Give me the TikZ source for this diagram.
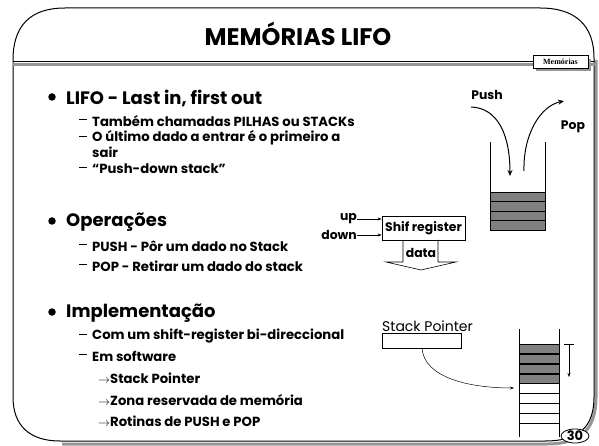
\documentclass[tikz,border=0pt]{standalone}
\usepackage{fontspec}
\setmainfont{Poppins}
\newfontfamily\timesf{Liberation Serif}
\usetikzlibrary{arrows.meta,shapes.geometric}
\definecolor{cellgray}{RGB}{128,128,128}
\definecolor{shadowgray}{RGB}{150,150,150}
\tikzset{
  lvlone/.style={anchor=west,inner sep=0pt,font=\fontsize{18}{20}\selectfont\bfseries},
  lvltwo/.style={anchor=west,inner sep=0pt,font=\fontsize{13.2}{15}\selectfont\bfseries},
  dashmark/.style={inner sep=0pt,minimum width=8pt,minimum height=0.8pt,fill=black},
  bulletmark/.style={circle,fill=black,inner sep=0pt,minimum size=7.5pt},
  cell/.style={draw=black,fill=cellgray,line width=0.8pt},
  thinarrow/.style={-{Stealth[length=4pt,width=3pt]},line width=0.5pt},
  bigarrow/.style={-{Stealth[length=6pt,width=5pt]},line width=1pt},
  lbl/.style={inner sep=0pt,font=\fontsize{12.4}{14}\selectfont\bfseries},
}
\begin{document}
\begin{tikzpicture}[x=1pt,y=-1pt]
\useasboundingbox (0,0) rectangle (599,446);
% frame shadow
\draw[shadowgray,line width=3pt] (596,60) -- (596,397) .. controls (596,428) and (582,444) .. (547,444) -- (62,444);
% frame
\draw[line width=1pt] (13,397) -- (13,60) .. controls (13,26) and (30,8) .. (65,8) -- (540,8) .. controls (575,8) and (594,25) .. (594,58) -- (594,397) .. controls (594,426) and (580,441) .. (545,441) -- (60,441) .. controls (30,441) and (13,426) .. (13,397);
% header line
\draw[shadowgray,line width=2.5pt] (13,64.5) -- (596,64.5);
\draw[line width=1pt] (13,62) -- (594,62);
% title
\node[font=\fontsize{24}{28}\selectfont\bfseries] (title) at (298,34) {MEMÓRIAS LIFO};
% Memorias tag
\fill[shadowgray] (536,59) rectangle (591,71);
\node[draw,fill=white,line width=0.6pt,minimum width=55pt,minimum height=13pt,inner sep=0pt,font=\timesf\fontsize{8}{9}\selectfont\bfseries] (tag) at (560.5,62) {Memórias};

% level one items
\node[bulletmark] (b1) at (52,97) {};
\node[lvlone] (l1) at (66,98) {LIFO - Last in, first out};
\node[dashmark] (d11) at (83,119.7) {};
\node[lvltwo] (l11) at (92,121) {Também chamadas PILHAS ou STACKs};
\node[dashmark] (d12) at (83,136.7) {};
\node[lvltwo] (l12) at (92,138) {O último dado a entrar é o primeiro a};
\node[lvltwo] (l12b) at (92,152) {sair};
\node[dashmark] (d13) at (83,167.7) {};
\node[lvltwo] (l13) at (92,169) {“Push-down stack”};

\node[bulletmark] (b2) at (52,221) {};
\node[lvlone] (l2) at (66,222) {Operações};
\node[dashmark] (d21) at (83,244.7) {};
\node[lvltwo] (l21) at (92,246) {PUSH - Pôr um dado no Stack};
\node[dashmark] (d22) at (83,264.7) {};
\node[lvltwo] (l22) at (92,266) {POP - Retirar um dado do stack};

\node[bulletmark] (b3) at (52,312) {};
\node[lvlone] (l3) at (66,313) {Implementação};
\node[dashmark] (d31) at (83,334.7) {};
\node[lvltwo] (l31) at (92,336) {Com um shift-register bi-direccional};
\node[dashmark] (d32) at (83,354.7) {};
\node[lvltwo] (l32) at (92,356) {Em software};
\node[lvltwo] (l321) at (98,378) {$\rightarrow$Stack Pointer};
\node[lvltwo] (l322) at (98,400) {$\rightarrow$Zona reservada de memória};
\node[lvltwo] (l323) at (98,421) {$\rightarrow$Rotinas de PUSH e POP};

% top-right stack
\draw[line width=0.8pt] (490,142) -- (490,230);
\draw[line width=0.8pt] (545,142) -- (545,230);
\foreach \y in {192,201.5,211,220.5} {\draw[cell] (490,\y) rectangle (545,\y+9.5);}
\node[lbl] (push) at (487,95) {Push};
\node[lbl] (pop) at (573,127) {Pop};
\coordinate (pushs) at (471,107);
\coordinate (pushe) at (510,176);
\coordinate (pops) at (524,171);
\coordinate (pope) at (564,101);
\draw[bigarrow] (pushs) .. controls (498,108) and (510,135) .. (pushe);
\draw[bigarrow] (pops) .. controls (523,135) and (540,106) .. (pope);

% shift register
\node[draw,line width=0.8pt,minimum width=83pt,minimum height=24pt,inner sep=0pt,font=\fontsize{12.4}{14}\selectfont\bfseries] (sr) at (423.5,228) {Shif register};
\node[lbl,anchor=east] (up) at (357,219) {up};
\node[lbl,anchor=east] (down) at (357,235) {down};
\draw[thinarrow] (up.east) -- (sr.west |- up.east);
\draw[thinarrow] (down.east) -- (sr.west |- down.east);
\draw[line width=0.6pt] (403,240) -- (403,262) -- (386,262) -- (421,270) -- (456,262) -- (438,262) -- (438,240);
\node[lbl] (data) at (421,253) {data};

% bottom-right stack
\draw[line width=0.7pt] (519,329) -- (519,437);
\draw[line width=0.7pt] (559,329) -- (559,437);
\foreach \y in {344,354,364,374} {\draw[cell] (519,\y) rectangle (559,\y+9.8);}
\foreach \y in {393,403,413,423} {\draw[line width=0.5pt] (519,\y) -- (559,\y);}
\coordinate (tt) at (569,344);
\coordinate (tb) at (569,377);
\draw[line width=0.5pt] (564,344) -- (574,344);
\draw[thinarrow] (tt) -- (tb);

% stack pointer
\node[draw,line width=0.6pt,minimum width=79pt,minimum height=15pt,inner sep=0pt,anchor=north west] (sp) at (382,333) {};
\node[anchor=south west,inner sep=0pt,font=\fontsize{14}{16}\selectfont] (splabel) at (382,332) {Stack Pointer};
\coordinate (spt) at (514,388);
\draw[thinarrow] (422,348) .. controls (424,378) and (470,388) .. (spt);

% page number
\node[ellipse,draw,fill=white,line width=0.8pt,minimum width=28pt,minimum height=14pt,inner sep=0pt,font=\fontsize{13}{14}\selectfont\bfseries] (pg) at (575,436) {30};
\end{tikzpicture}
\end{document}
